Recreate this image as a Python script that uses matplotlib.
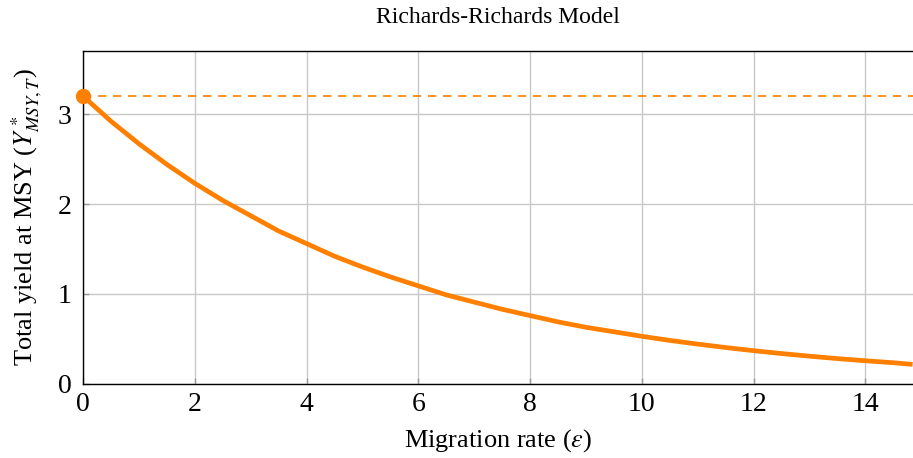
import numpy as np
import matplotlib.pyplot as plt

# Total yield at MSY against migration rate
eps = [0, 0.5, 1, 1.5, 2, 2.5, 3, 3.5, 4, 4.5, 5, 5.5, 6, 6.5, 7, 7.5,
       8, 8.5, 9, 9.5, 10, 10.5, 11, 11.5, 12, 12.5, 13, 13.5, 14, 14.5, 14.8]
yield_msy = [3.20, 2.92, 2.67, 2.44, 2.23, 2.04, 1.87, 1.70, 1.56, 1.42,
             1.30, 1.19, 1.09, 0.99, 0.91, 0.83, 0.76, 0.69, 0.63, 0.58,
             0.53, 0.484, 0.443, 0.405, 0.37, 0.338, 0.309, 0.282, 0.258, 0.236, 0.22]
y_no_migration = 3.2

x_ticks = [0, 2, 4, 6, 8, 10, 12, 14]
y_ticks = [0, 1, 2, 3]

orange = "#ff8000"

plt.rcParams["font.family"] = ["Liberation Serif", "DejaVu Serif"]
plt.rcParams["mathtext.fontset"] = "stix"

fig = plt.figure(figsize=(9.13, 4.58), dpi=100)
ax = fig.add_axes([0.0909, 0.1616, 0.9091, 0.727])

ax.plot(eps, yield_msy, color=orange, lw=3.4, solid_joinstyle="round", zorder=3)
ax.axhline(y_no_migration, color=orange, lw=1.2, ls=(0, (5, 4)), zorder=3)
ax.plot([eps[0]], [yield_msy[0]], "o", color=orange, ms=10, clip_on=False, zorder=4)

ax.set_xlim(0, 14.85)
ax.set_ylim(0, 3.7)
ax.set_xticks(x_ticks)
ax.set_yticks(y_ticks)
ax.grid(True, color="#c8c8c8", lw=1.0)
ax.set_axisbelow(True)
ax.tick_params(direction="in", length=4, width=1, color="#999999",
               labelsize=20)
ax.tick_params(axis="x", pad=6)
ax.tick_params(axis="y", pad=8)
ax.spines["right"].set_visible(False)
for s in ("left", "bottom", "top"):
    ax.spines[s].set_linewidth(1.0)

ax.set_title("Richards-Richards Model", fontsize=17, pad=20)
ax.set_xlabel(r"Migration rate ($\varepsilon$)", fontsize=19, labelpad=7)
ax.set_ylabel(r"Total yield at MSY ($Y^*_{MSY,T}$)", fontsize=19, labelpad=10)

fig.savefig("out.png", dpi=100)
